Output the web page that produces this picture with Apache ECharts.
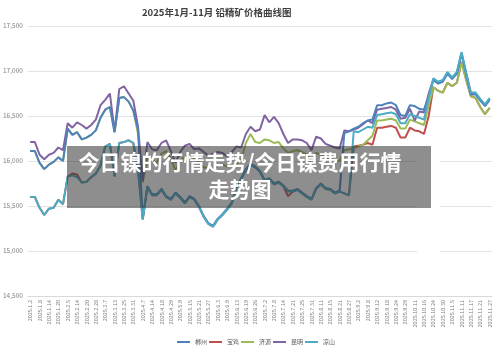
<!DOCTYPE html>
<html>
<head>
<meta charset="utf-8">
<script src="https://cdn.jsdelivr.net/npm/echarts@6/dist/echarts.min.js"></script>
<style>
html, body { margin: 0; padding: 0; background: #fff; }
#chart { width: 500px; height: 355px; }
</style>
</head>
<body>
<div id="chart"></div>
<script>
// 日期（每两个点显示一个标签）
const dates = [
  "2025.1.2", "2025.1.6", "2025.1.8", "2025.1.10", "2025.1.14", "2025.1.16", "2025.1.20", "2025.1.22", "2025.2.5", "2025.2.11",
  "2025.2.14", "2025.2.18", "2025.2.20", "2025.2.25", "2025.2.28", "2025.3.4", "2025.3.7", "2025.3.11", "2025.3.13", "2025.3.19",
  "2025.3.25", "2025.3.27", "2025.3.31", "2025.4.2", "2025.4.7", "2025.4.10", "2025.4.14", "2025.4.16", "2025.4.18", "2025.4.23",
  "2025.4.29", "2025.5.6", "2025.5.9", "2025.5.13", "2025.5.15", "2025.5.19", "2025.5.21", "2025.5.23", "2025.5.27", "2025.5.29",
  "2025.6.3", "2025.6.5", "2025.6.9", "2025.6.11", "2025.6.13", "2025.6.17", "2025.6.19", "2025.6.24", "2025.6.26", "2025.6.30",
  "2025.7.2", "2025.7.4", "2025.7.8", "2025.7.10", "2025.7.14", "2025.7.16", "2025.7.21", "2025.7.23", "2025.7.25", "2025.7.29",
  "2025.7.31", "2025.8.6", "2025.8.11", "2025.8.13", "2025.8.15", "2025.8.19", "2025.8.21", "2025.8.25", "2025.8.27", "2025.8.29",
  "2025.9.2", "2025.9.4", "2025.9.8", "2025.9.10", "2025.9.12", "2025.9.16", "2025.9.18", "2025.9.22", "2025.9.24", "2025.9.26",
  "2025.9.29", "2025.10.9", "2025.10.11", "2025.10.14", "2025.10.16", "2025.10.21", "2025.10.24", "2025.10.28", "2025.10.30", "2025.11.3",
  "2025.11.5", "2025.11.7", "2025.11.11", "2025.11.13", "2025.11.17", "2025.11.19", "2025.11.21", "2025.11.25", "2025.11.27"
];

const names = ["郴州", "宝鸡", "济源", "昆明", "凉山"];
const colors = ["#4F81BD", "#C0504D", "#9BBB59", "#8064A2", "#4BACC6"];

const chenzhou = [
  16110, 16110, 15980, 15910, 15960, 15990, 16040, 16000, 16360, 16290,
  16320, 16240, 16260, 16290, 16340, 16480, 16570, 16600, 16320, 16700,
  16710, 16660, 16560, 16350, 15360, 15720, 15630, 15630, 15690, 15610,
  15580, 15650, 15600, 15540, 15610, 15580, 15500, 15390, 15310, 15280,
  15360, 15410, 15470, 15540, 15710, 15810, 15910, 15970, 15940, 15890,
  15790, 15810, 15750, 15770, 15730, 15670, 15670, 15690, 15650, 15610,
  15580, 15700, 15750, 15700, 15690, 15650, 15670, 16310, 16330, 16360,
  16380, 16420, 16450, 16460, 16620, 16620, 16640, 16650, 16620, 16510,
  16500, 16620, 16610, 16580, 16570, 16720, 16900, 16860, 16880, 16970,
  16910, 16970, 17190, 16960, 16740, 16740, 16670, 16610, 16680
];
const baoji = [
  15600, 15600, 15480, 15400, 15470, 15480, 15570, 15520, 15830, 15860,
  15850, 15760, 15770, 15820, 15860, 15950, 16160, 16190, 15830, 16200,
  16210, 16230, 16200, 15900, 15350, 15710, 15620, 15620, 15680, 15600,
  15570, 15640, 15590, 15530, 15600, 15570, 15490, 15380, 15300, 15270,
  15350, 15400, 15460, 15530, 15700, 15800, 15900, 15960, 15930, 15880,
  15780, 15800, 15740, 15760, 15720, 15610, 15660, 15680, 15640, 15600,
  15570, 15690, 15740, 15690, 15680, 15640, 15660, 15640, 15620, 16160,
  16170, 16180, 16200, 16180, 16370, 16370, 16380, 16390, 16370, 16260,
  16260, 16370, 16340, 16330, 16300, 16500, 16820, 16780, 16760, 16870,
  16830, 16870, 17100, 16900, 16720, 16700, 16600, 16520, 16590
];
const jiyuan = [
  16110, 16110, 15980, 15910, 15960, 15990, 16040, 16000, 16360, 16290,
  16320, 16240, 16260, 16290, 16340, 16480, 16570, 16600, 16320, 16700,
  16710, 16660, 16560, 16300, 15760, 16030, 16010, 15980, 16080, 16110,
  16030, 15890, 16010, 16040, 16060, 16030, 15990, 15930, 15920, 15900,
  15950, 15960, 15940, 15950, 15960, 16010, 16200, 16300, 16210, 16200,
  16240, 16230, 16200, 16210, 16140, 16090, 16110, 16120, 16100, 16070,
  16010, 16090, 16070, 16040, 16020, 16000, 16000, 16120, 16130, 16140,
  16160, 16180, 16230, 16280, 16450, 16450, 16460, 16470, 16450, 16360,
  16360, 16460, 16440, 16420, 16400, 16620, 16820, 16780, 16760, 16870,
  16830, 16870, 17100, 16900, 16720, 16700, 16600, 16520, 16590
];
const kunming = [
  16210, 16210, 16070, 16020, 16070, 16090, 16150, 16120, 16420, 16370,
  16430, 16400, 16360, 16400, 16460, 16620, 16680, 16750, 16330, 16800,
  16830, 16750, 16670, 16380, 15780, 16210, 16130, 16120, 16200, 16230,
  16110, 15980, 16100, 16170, 16190, 16130, 16140, 16100, 16060, 16080,
  16100, 16090, 16050, 16100, 16160, 16150, 16300, 16380, 16330, 16350,
  16510, 16430, 16490, 16420, 16300, 16200, 16240, 16240, 16230, 16200,
  16120, 16270, 16250, 16190, 16170, 16150, 16140, 16340, 16330, 16350,
  16370, 16410, 16450, 16420, 16570, 16580, 16590, 16600, 16570, 16470,
  16480, 16580, 16450, 16550, 16540, 16750, 16910, 16870, 16890, 16980,
  16920, 16980, 17200, 16970, 16750, 16750, 16680, 16620, 16690
];
const liangshan = [
  15600, 15600, 15480, 15400, 15470, 15480, 15570, 15520, 15830, 15840,
  15820, 15760, 15770, 15820, 15860, 15950, 16160, 16190, 15830, 16200,
  16210, 16230, 16200, 15900, 15350, 15710, 15620, 15620, 15680, 15600,
  15570, 15640, 15590, 15530, 15600, 15570, 15490, 15380, 15300, 15270,
  15350, 15400, 15460, 15530, 15700, 15800, 15900, 15960, 15930, 15880,
  15780, 15800, 15740, 15760, 15720, 15660, 15660, 15680, 15640, 15600,
  15570, 15690, 15740, 15690, 15680, 15640, 15660, 15640, 15620, 16330,
  16320, 16350, 16380, 16370, 16510, 16520, 16530, 16540, 16520, 16420,
  16420, 16520, 16500, 16480, 16460, 16700, 16920, 16880, 16900, 16990,
  16930, 16990, 17210, 16980, 16760, 16760, 16690, 16630, 16700
];

const chart = echarts.init(document.getElementById("chart"));

// 叠放顺序：凉山在最上面
function line(i, data, z) {
  return {
    name: names[i],
    type: "line",
    data: data,
    symbol: "none",
    z: z,
    lineStyle: { width: 2, color: colors[i] },
    itemStyle: { color: colors[i] }
  };
}

chart.setOption({
  animation: false,
  textStyle: { fontFamily: '"Noto Sans CJK SC", sans-serif' },
  title: {
    text: "2025年1月-11月 铅精矿价格曲线图",
    left: 142,
    top: 8,
    padding: 0,
    textStyle: { fontSize: 9.5, fontWeight: "bold", color: "#404040" }
  },
  grid: { left: 25, right: 8, top: 26, bottom: 59 },
  legend: {
    data: names,
    left: 172,
    top: 334,
    icon: "rect",
    itemWidth: 13,
    itemHeight: 2,
    itemGap: 2,
    textStyle: { fontSize: 6, color: "#595959" }
  },
  xAxis: {
    type: "category",
    data: dates,
    boundaryGap: true,
    axisTick: { show: false },
    axisLine: { lineStyle: { color: "#d9d9d9" } },
    axisLabel: { interval: 1, rotate: 90, fontSize: 5.5, color: "#7f7f7f", margin: 4 }
  },
  yAxis: {
    type: "value",
    min: 14500,
    max: 17500,
    interval: 500,
    axisLine: { show: false },
    axisTick: { show: false },
    axisLabel: { fontSize: 6.5, color: "#7f7f7f", margin: 5 },
    splitLine: { lineStyle: { color: "#e3e3e3" } }
  },
  series: [
    line(0, chenzhou, 5),
    line(1, baoji, 2),
    line(2, jiyuan, 3),
    line(3, kunming, 4),
    line(4, liangshan, 6)
  ],
  graphic: [
    // 右下方的白色缺口
    { type: "rect", z: 100, shape: { x: 417, y: 150, width: 23, height: 112 }, style: { fill: "#fff" } },
    // 半透明灰色遮罩 + 白字
    { type: "rect", z: 101, shape: { x: 67, y: 146, width: 364, height: 62 }, style: { fill: "rgba(50,50,50,0.55)" } },
    {
      type: "text", z: 102, x: 240, y: 162,
      style: { text: "今日镍的行情走势/今日镍费用行情", fill: "#fff", font: 'bold 21px "Noto Sans CJK SC"', align: "center", verticalAlign: "middle" }
    },
    {
      type: "text", z: 102, x: 240, y: 189,
      style: { text: "走势图", fill: "#fff", font: 'bold 21px "Noto Sans CJK SC"', align: "center", verticalAlign: "middle" }
    }
  ]
});
</script>
</body>
</html>
